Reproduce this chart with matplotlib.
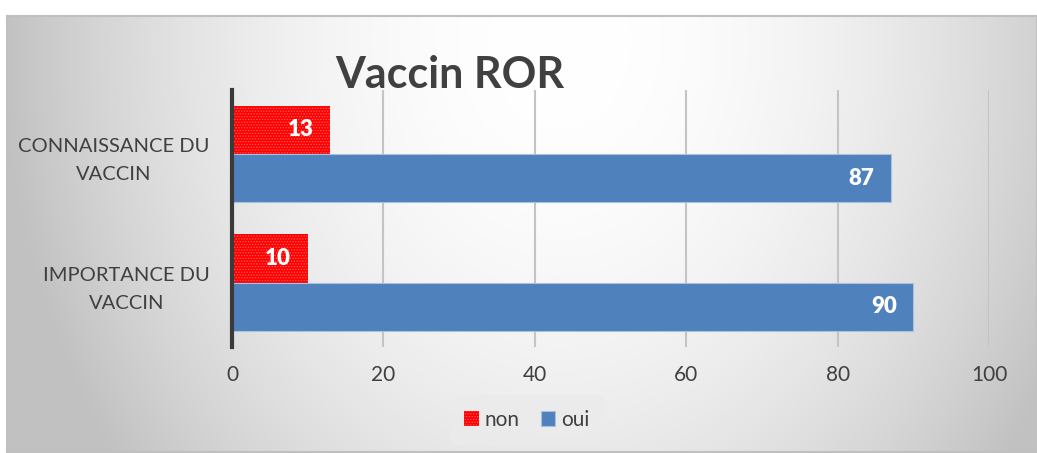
import matplotlib
matplotlib.use("Agg")
import matplotlib.pyplot as plt
import numpy as np

categories = ["IMPORTANCE DU\nVACCIN", "CONNAISSANCE DU\nVACCIN"]
non = [10, 13]
oui = [90, 87]
xticks = [0, 20, 40, 60, 80, 100]

plt.rcParams['font.family'] = ['Lato', 'DejaVu Sans']
plt.rcParams['hatch.linewidth'] = 0.6
txt = '#404040'

fig = plt.figure(figsize=(10.37, 4.53), dpi=100)
fig.patch.set_facecolor('white')

# gradient background of the chart frame
W, H = 1037, 453
x0, y0 = 7, 16
bg = fig.add_axes([x0 / W, 1 / H, (W - x0) / W, (H - y0 - 1) / H], zorder=-5)
gx, gy = np.meshgrid(np.linspace(x0, W, 400), np.linspace(y0, H, 200))
d2 = ((gx - 560) / 560) ** 2 + ((gy - 40) / 700) ** 2
val = 255 - 62 * np.clip(d2, 0, 1)
img = np.dstack([val, val, val]) / 255
bg.imshow(img, aspect='auto', extent=[0, 1, 0, 1], origin='upper')
bg.set_xticks([])
bg.set_yticks([])
for s in bg.spines.values():
    s.set_color('#c0c0c0')
    s.set_linewidth(1.5)

ax = fig.add_axes([232 / W, 1 - 347 / H, (989 - 232) / W, (347 - 89.5) / H])
ax.set_facecolor('none')

y = np.arange(len(categories))
h = 0.375
b_non = ax.barh(y + h / 2, non, height=h, color='#ff0000', edgecolor='#ff6060',
                linewidth=0, hatch='......', label='non', zorder=3)
b_oui = ax.barh(y - h / 2, oui, height=h, color='#4f81bd', edgecolor='#a9c1df',
                linewidth=0.8, label='oui', zorder=3)

for bars, vals in [(b_non, non), (b_oui, oui)]:
    for rect, v in zip(bars, vals):
        ax.annotate(str(v), (rect.get_width(), rect.get_y() + rect.get_height() / 2),
                    xytext=(-12, 0), textcoords='offset points', ha='right', va='center',
                    color='white', fontsize=16, fontweight='heavy', zorder=4)

ax.set_xlim(0, 100)
ax.set_ylim(-0.5, 1.5)
ax.set_xticks(xticks)
ax.set_yticks(y)
ax.set_yticklabels(categories, multialignment='center', linespacing=1.75)
ax.tick_params(axis='both', length=0, labelsize=15, labelcolor=txt)
ax.tick_params(axis='y', labelsize=14.5, pad=16)
ax.tick_params(axis='x', pad=13)
ax.grid(axis='x', color='#c4c4c4', linewidth=1.5, zorder=0)
ax.grid(axis='y', visible=False)
for s in ['top', 'right', 'bottom']:
    ax.spines[s].set_visible(False)
ax.spines['left'].set_color('#3a3a3a')
ax.spines['left'].set_linewidth(3)
ax.spines['left'].set_zorder(5)

fig.text(450 / W, 1 - 88 / H, 'Vaccin ROR', ha='center', va='baseline',
         fontsize=31, fontweight='bold', color=txt)

leg = fig.legend(handles=[b_non, b_oui], labels=['non', 'oui'], loc='center',
                 bbox_to_anchor=(527 / W, 1 - 420 / H), ncol=2, frameon=True,
                 fontsize=15, handlelength=0.7, handleheight=0.7, handletextpad=0.3,
                 columnspacing=1.0, borderpad=0.7)
leg.get_frame().set_facecolor('#ebebeb')
leg.get_frame().set_edgecolor('none')
for t in leg.get_texts():
    t.set_color(txt)

fig.savefig('out.png', dpi=100)
